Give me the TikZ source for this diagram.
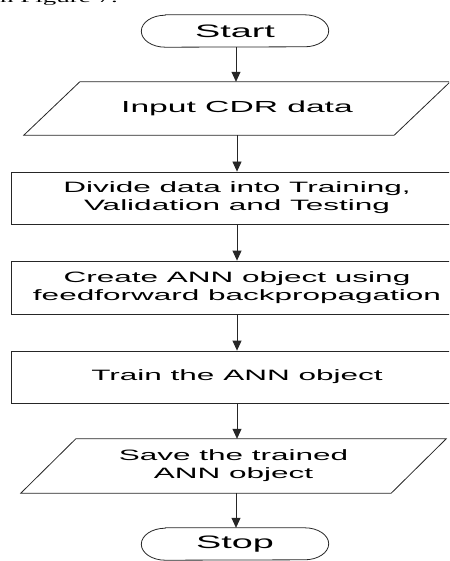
\documentclass[tikz,border=0pt]{standalone}
\usepackage{fontspec}
\setmainfont{Liberation Sans}
\newfontfamily\boxfont[FakeStretch=2.1]{Liberation Sans}
\newfontfamily\capfont[FakeStretch=2.0]{Liberation Serif}
\usetikzlibrary{arrows.meta,calc}

\tikzset{
  outline/.style={draw=black!85, line width=0.8pt},
  flow/.style={draw=black!85, line width=0.8pt, -{Triangle[width=9pt,length=10pt]}},
  termtext/.style={inner sep=0pt, minimum width=187pt, minimum height=32pt,
    font=\boxfont\fontsize{18}{20}\selectfont},
  iotext/.style={inner sep=0pt, minimum width=370pt, minimum height=53pt, align=center,
    font=\boxfont\fontsize{15}{18}\selectfont},
  proc/.style={outline, inner sep=0pt, minimum width=452pt, minimum height=52pt, align=center,
    font=\boxfont\fontsize{15}{18}\selectfont},
}

% stadium outline around a terminal node
\newcommand\terminalpath[1]{%
  \draw[outline] ([xshift=24pt]#1.north west) -- ([xshift=-24pt]#1.north east)
    arc[start angle=90, end angle=-90, x radius=24pt, y radius=16pt]
    -- ([xshift=24pt]#1.south west)
    arc[start angle=270, end angle=90, x radius=24pt, y radius=16pt] -- cycle;}
% slanted input/output outline
\newcommand\iopath[2]{%
  \draw[outline] ([xshift=#2]#1.north west) -- ([xshift=#2]#1.north east)
    -- ([xshift=-#2]#1.south east) -- ([xshift=-#2]#1.south west) -- cycle;}

\begin{document}
\begin{tikzpicture}[x=1pt, y=-1pt]
  \useasboundingbox (0,0) rectangle (449,561);
  \clip (0,0) rectangle (449,561);

  \node[inner sep=0pt, anchor=base east, font=\capfont\fontsize{13.5}{15}\selectfont]
    (cap) at (118,3) {in Figure 7.};

  \node[termtext] (start) at (235,31) {Start};
  \terminalpath{start}

  \node[iotext, font=\boxfont\fontsize{16}{18}\selectfont] (input) at (237,108.5) {Input CDR data};
  \iopath{input}{28pt}

  \node[proc] (divide) at (237,198) {Divide data into Training,\\Validation and Testing};
  \node[proc, minimum height=53pt] (create) at (237,287.5) {Create ANN object using\\feedforward backpropagation};
  \node[proc] (train) at (237,377) {Train the ANN object};

  \node[iotext, minimum height=54pt] (save) at (233.5,466) {Save the trained\\ANN object};
  \iopath{save}{27.5pt}

  \node[termtext] (stop) at (235,544) {Stop};
  \terminalpath{stop}

  \draw[flow] ([xshift=1pt]start.south) -- ([xshift=1pt]start.south |- input.north);
  \draw[flow] (input.south) -- (input.south |- divide.north);
  \draw[flow] (divide.south) -- (divide.south |- create.north);
  \draw[flow] (create.south) -- (create.south |- train.north);
  \draw[flow] (train.south) -- (train.south |- save.north);
  \draw[flow] ([xshift=2.5pt]save.south) -- ([xshift=2.5pt]save.south |- stop.north);
\end{tikzpicture}
\end{document}
